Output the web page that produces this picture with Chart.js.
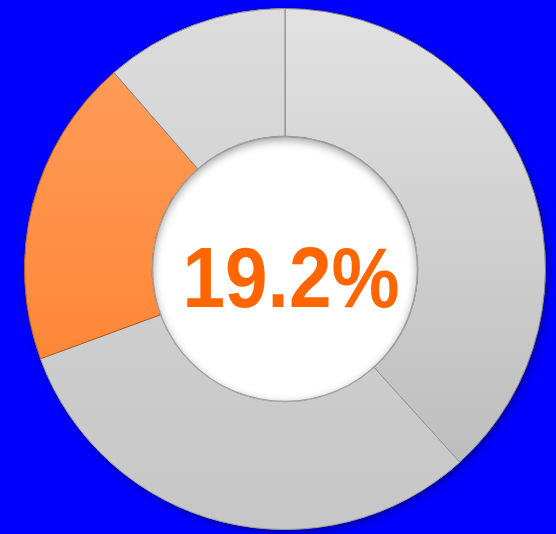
<!DOCTYPE html>
<html>
<head>
<meta charset="utf-8">
<script src="https://cdn.jsdelivr.net/npm/chart.js@4.4.0/dist/chart.umd.min.js"></script>
<style>
html,body{margin:0;padding:0;background:#0000ff;}
#wrap{width:556px;height:534px;}
</style>
</head>
<body>
<div id="wrap"><canvas id="c" width="556" height="534"></canvas></div>
<script>
const categories = ["Other A", "Other B", "Highlight", "Other C"];
const values = [38.3, 31.1, 19.2, 11.4];
const centerLabel = "19.2%";
const topColors = ["#e2e2e2", "#dadada", "#ffa060", "#dcdcdc"];
const bottomColors = ["#b8b8b8", "#c6c6c6", "#ff7a22", "#c4c4c4"];

function segFill(ctx) {
  const chart = ctx.chart;
  const area = chart.chartArea;
  if (!area) return topColors[ctx.dataIndex];
  const g = chart.ctx.createLinearGradient(0, area.top, 0, area.bottom);
  g.addColorStop(0, topColors[ctx.dataIndex]);
  g.addColorStop(1, bottomColors[ctx.dataIndex]);
  return g;
}

const bgPlugin = {
  id: 'bg',
  beforeDraw(chart) {
    const c = chart.ctx;
    c.save();
    c.fillStyle = '#0000ff';
    c.fillRect(0, 0, chart.width, chart.height);
    c.restore();
  },
  beforeDatasetsDraw(chart) {
    const meta = chart.getDatasetMeta(0);
    const arc = meta.data[0];
    if (!arc) return;
    const c = chart.ctx;
    c.save();
    c.shadowColor = 'rgba(0,0,30,0.45)';
    c.shadowBlur = 8;
    c.shadowOffsetX = 2;
    c.shadowOffsetY = 3;
    c.beginPath();
    c.arc(arc.x, arc.y, arc.outerRadius, 0, Math.PI * 2);
    c.fillStyle = '#cccccc';
    c.fill();
    c.restore();
  },
  afterDatasetsDraw(chart) {
    const meta = chart.getDatasetMeta(0);
    const arc = meta.data[0];
    if (!arc) return;
    const c = chart.ctx;
    const r = arc.innerRadius;
    c.save();
    c.beginPath();
    c.arc(arc.x, arc.y, r, 0, Math.PI * 2);
    c.clip();
    c.fillStyle = '#ffffff';
    c.fillRect(arc.x - r, arc.y - r, 2 * r, 2 * r);
    c.beginPath();
    c.arc(arc.x, arc.y, r + 20, 0, Math.PI * 2);
    c.arc(arc.x, arc.y, r - 1, 0, Math.PI * 2, true);
    c.shadowColor = 'rgba(0,0,0,0.35)';
    c.shadowBlur = 8;
    c.shadowOffsetX = 0;
    c.shadowOffsetY = 3;
    c.fillStyle = '#999';
    c.fill();
    c.restore();
    // center text
    c.save();
    c.fillStyle = '#ff6600';
    c.font = 'bold 86px "Liberation Sans", Arial, sans-serif';
    c.textAlign = 'center';
    c.textBaseline = 'alphabetic';
    c.translate(arc.x + 6, arc.y + 38);
    c.scale(0.89, 1);
    c.fillText(centerLabel, 0, 0);
    c.restore();
  }
};

new Chart(document.getElementById('c'), {
  type: 'doughnut',
  data: {
    labels: categories,
    datasets: [{
      data: values,
      backgroundColor: segFill,
      borderColor: ['#7a7a7a', '#9a9a9a', '#b05a20', '#8a8a8a'],
      borderWidth: 1,
      hoverOffset: 0
    }]
  },
  options: {
    responsive: false,
    animation: false,
    cutout: '51%',
    layout: { padding: { left: 22, right: 8, top: 8, bottom: 4 } },
    plugins: { legend: { display: false }, tooltip: { enabled: false } },
    events: []
  },
  plugins: [bgPlugin]
});
</script>
</body>
</html>
